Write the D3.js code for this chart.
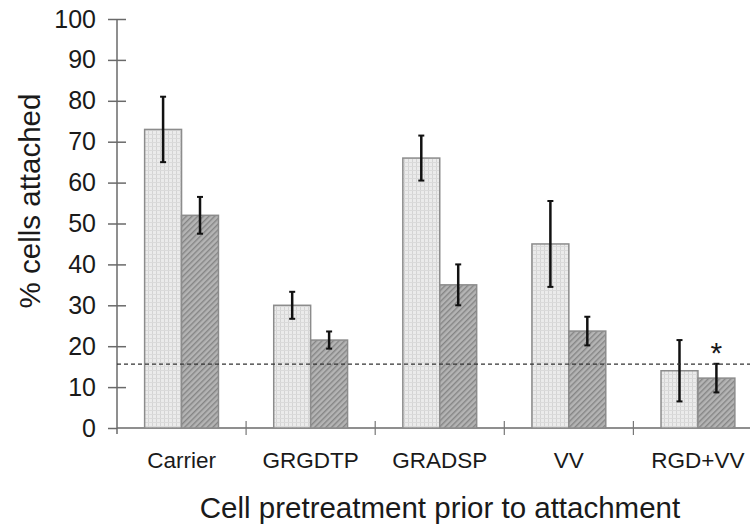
<!DOCTYPE html>
<html><head><meta charset="utf-8">
<script src="https://cdn.jsdelivr.net/npm/d3@7"></script>
<style>
body{margin:0;background:#fff;}
text{font-family:"Liberation Sans",Arial,sans-serif;fill:#1a1a1a;}
</style></head>
<body><svg id="c" width="750" height="527"></svg>
<script>
const categories = ["Carrier","GRGDTP","GRADSP","VV","RGD+VV"];
const series1 = [73, 30, 66, 45, 14];
const err1 = [8, 3.3, 5.5, 10.5, 7.5];
const series2 = [52, 21.5, 35, 23.7, 12.2];
const err2 = [4.5, 2.1, 5, 3.5, 3.5];
const yTicks = [0,10,20,30,40,50,60,70,80,90,100];
const threshold = 15.6;
const significant = [false,false,false,false,true];

const svg = d3.select("#c");
const pLeft = 117, pRight = 762.5, pTop = 19, pBottom = 428;
const y = d3.scaleLinear().domain([0,100]).range([pBottom, pTop]);
const x0 = d3.scaleBand().domain(categories).range([pLeft, pRight]).paddingInner(0.428).paddingOuter(0.214);
const x1 = d3.scaleBand().domain(["s1","s2"]).range([0, x0.bandwidth()]);

const defs = svg.append("defs");
const p1 = defs.append("pattern").attr("id","dots").attr("patternUnits","userSpaceOnUse").attr("width",4).attr("height",4);
p1.append("rect").attr("width",4).attr("height",4).attr("fill","#ebebeb");
p1.append("rect").attr("x",0).attr("y",0).attr("width",1).attr("height",4).attr("fill","#d4d4d4");
p1.append("rect").attr("x",0).attr("y",2).attr("width",4).attr("height",1).attr("fill","#dadada");
const p2 = defs.append("pattern").attr("id","hatch").attr("patternUnits","userSpaceOnUse").attr("width",4).attr("height",4).attr("patternTransform","rotate(45)");
p2.append("rect").attr("width",4).attr("height",4).attr("fill","#b4b4b4");
p2.append("rect").attr("x",0).attr("y",0).attr("width",1.4).attr("height",4).attr("fill","#858585");

// x axis line
svg.append("line").attr("x1",pLeft).attr("x2",750).attr("y1",pBottom).attr("y2",pBottom).attr("stroke","#6a6a6a").attr("stroke-width",1.5);
// x category separators
categories.forEach((c,i)=>{ if(i===0) return;
  const xx = x0.step()*i + pLeft;
  svg.append("line").attr("x1",xx).attr("x2",xx).attr("y1",pBottom-7).attr("y2",pBottom+7).attr("stroke","#777").attr("stroke-width",1.2);
});

// y axis
const yAxis = svg.append("g").attr("transform",`translate(${pLeft},0)`)
  .call(d3.axisLeft(y).tickValues(yTicks).tickSize(9).tickPadding(12).tickFormat(d3.format("d")));
yAxis.select(".domain").remove();
yAxis.selectAll(".tick line").attr("stroke","#6a6a6a").attr("stroke-width",1.5).attr("x2",d=>d===0?0:9).attr("x1",-9);
yAxis.selectAll(".tick text").style("font-size","25px").style("font-family","'Liberation Sans',Arial,sans-serif").attr("fill","#222");
svg.append("line").attr("x1",pLeft).attr("x2",pLeft).attr("y1",pTop).attr("y2",pBottom+6).attr("stroke","#6a6a6a").attr("stroke-width",1.5);

// bars
const g = svg.append("g");
categories.forEach((c,i)=>{
  const bx = x0(c);
  const data = [{k:"s1",v:series1[i],e:err1[i],f:"url(#dots)"},{k:"s2",v:series2[i],e:err2[i],f:"url(#hatch)"}];
  data.forEach(d=>{
    g.append("rect").attr("x",bx+x1(d.k)).attr("y",y(d.v)).attr("width",x1.bandwidth()).attr("height",y(0)-y(d.v))
      .attr("fill",d.f).attr("stroke","#8c8c8c").attr("stroke-width",1.5);
  });
});
// dashed threshold line
svg.append("line").attr("x1",pLeft).attr("x2",750).attr("y1",y(threshold)).attr("y2",y(threshold))
  .attr("stroke","#333").attr("stroke-width",1.2).attr("stroke-dasharray","4,3");
// error bars
categories.forEach((c,i)=>{
  const bx = x0(c);
  [{k:"s1",v:series1[i],e:err1[i]},{k:"s2",v:series2[i],e:err2[i]}].forEach(d=>{
    const cx = bx + x1(d.k) + x1.bandwidth()/2;
    g.append("line").attr("x1",cx).attr("x2",cx).attr("y1",y(d.v+d.e)).attr("y2",y(d.v-d.e)).attr("stroke","#111").attr("stroke-width",2.5);
    [d.v+d.e,d.v-d.e].forEach(vv=>g.append("line").attr("x1",cx-3).attr("x2",cx+3).attr("y1",y(vv)).attr("y2",y(vv)).attr("stroke","#111").attr("stroke-width",2));
  });
  if(significant[i]){
    const cx = bx + x1("s2") + x1.bandwidth()/2;
    svg.append("text").attr("x",cx).attr("y",y(series2[i]+err2[i])-1).attr("text-anchor","middle").style("font-size","30px").attr("fill","#333").text("*");
  }
});

// category labels
svg.selectAll(".cat").data(categories).enter().append("text")
  .attr("x",d=>x0(d)+x0.bandwidth()/2).attr("y",468).attr("text-anchor","middle").style("font-size","22.5px").text(d=>d);

// axis titles
svg.append("text").attr("x",440).attr("y",518).attr("text-anchor","middle").style("font-size","29.5px").text("Cell pretreatment prior to attachment");
svg.append("text").attr("transform","translate(40,201) rotate(-90)").attr("text-anchor","middle").style("font-size","29.5px").text("% cells attached");
</script></body></html>
